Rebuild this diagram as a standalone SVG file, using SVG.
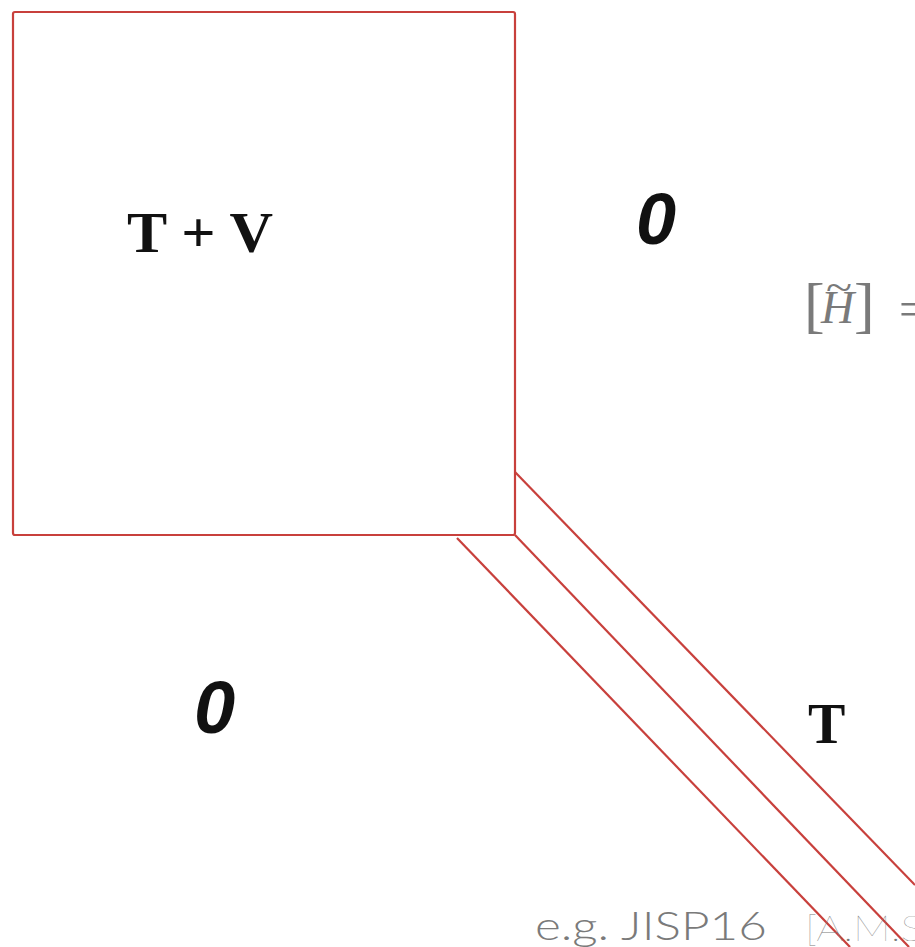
<svg xmlns="http://www.w3.org/2000/svg" width="915" height="947" viewBox="0 0 915 947">
<style>
.red{fill:none;stroke:#c8403c;stroke-width:2.2}
.serif{font-family:"Liberation Serif","DejaVu Serif",serif;fill:#111}
.zero{font-family:"Liberation Sans","DejaVu Sans",sans-serif;font-weight:bold;font-style:italic;fill:#111}
.math{font-family:"Liberation Serif","DejaVu Serif",serif;fill:#7a7a7a}
.cite{font-family:Lato,"Open Sans",sans-serif;fill:#7a7a7a}
</style>
<rect width="915" height="947" fill="#fff"/>
<g id="block-TV">
<rect class="red" x="13" y="12" width="502" height="523" rx="2"/>
<text class="serif" x="127" y="252" font-size="56" font-weight="bold" textLength="146" lengthAdjust="spacingAndGlyphs">T + V</text>
</g>
<g id="zero-top">
<text class="zero" x="636" y="244" font-size="72">0</text>
</g>
<g id="zero-bottom">
<text class="zero" x="194" y="733" font-size="74">0</text>
</g>
<g id="connectors">
<line class="red" x1="515" y1="472" x2="915" y2="885"/>
<line class="red" x1="515" y1="535" x2="909" y2="947"/>
<line class="red" x1="457" y1="538" x2="850" y2="947"/>
</g>
<g id="label-T">
<text class="serif" x="808" y="743" font-size="56" font-weight="bold">T</text>
</g>
<g id="matrix-label">
<text class="math" x="804" y="326" font-size="62" font-weight="100">[</text>
<text class="math" x="821" y="323" font-size="46" font-style="italic">H</text>
<text class="math" x="826" y="301" font-size="40" textLength="26" lengthAdjust="spacingAndGlyphs">~</text>
<text class="math" x="854" y="326" font-size="62" font-weight="100">]</text>
<text class="math" x="899" y="326" font-size="50">=</text>
</g>
<g id="citation">
<text class="cite" x="535" y="940" font-size="40" font-weight="300" textLength="232" lengthAdjust="spacingAndGlyphs">e.g. JISP16</text>
<text class="cite" x="805" y="941" font-size="36" font-weight="100" fill="#999" textLength="118" lengthAdjust="spacingAndGlyphs">[A.M.S</text>
</g>
</svg>
